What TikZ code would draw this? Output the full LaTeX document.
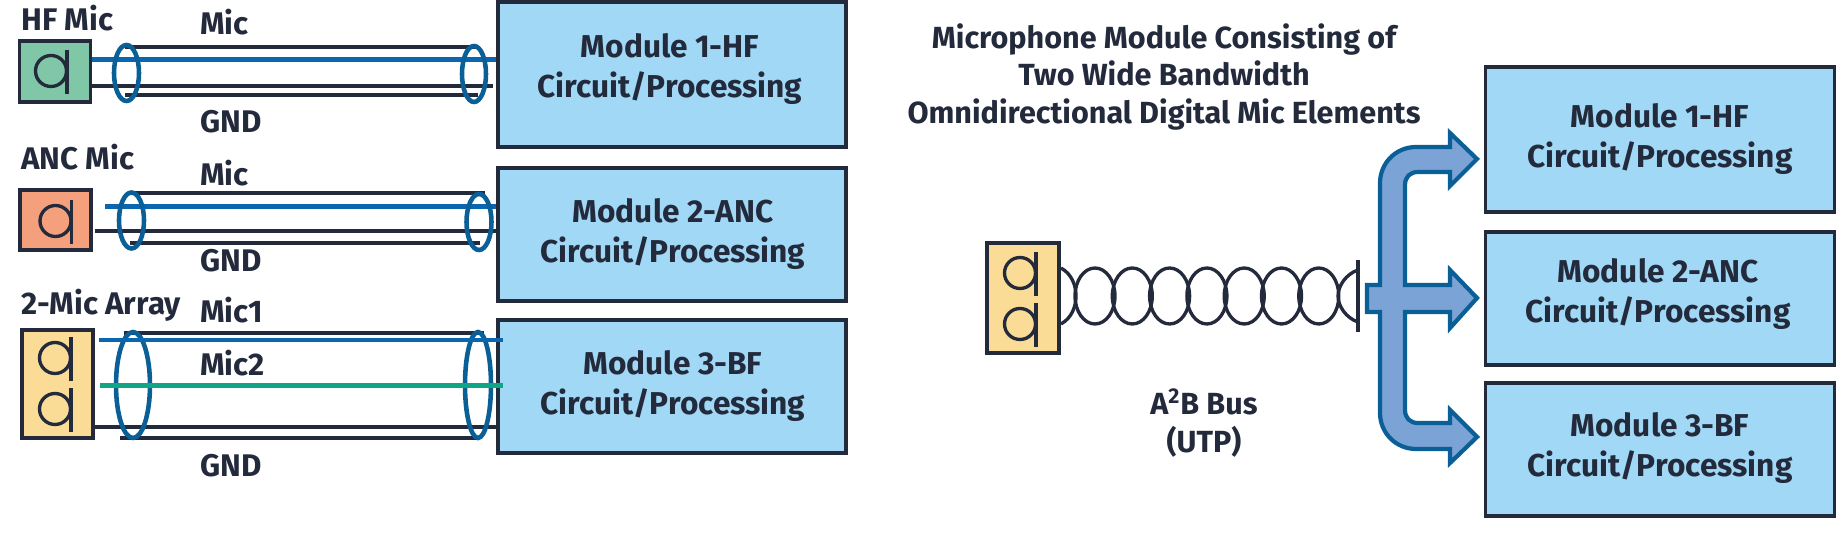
\documentclass[tikz,border=0pt]{standalone}
\usepackage{fontspec}
\setmainfont{Fira Sans}
\usepackage{tikz}
\usetikzlibrary{positioning,calc,shapes.geometric}
\definecolor{ink}{HTML}{232A3C}
\definecolor{modfill}{HTML}{A0D8F5}
\definecolor{cgreen}{HTML}{7FC7A6}
\definecolor{corange}{HTML}{F5A07D}
\definecolor{cyellow}{HTML}{FBDC96}
\definecolor{wblue}{HTML}{0A66AE}
\definecolor{wgreen}{HTML}{0FA585}
\definecolor{shield}{HTML}{0A5F96}
\definecolor{busfill}{HTML}{7BA3D6}
\tikzset{
  modbox/.style={draw=ink,fill=modfill,line width=2.2pt,inner sep=0pt},
  micbox/.style={draw=ink,line width=2.2pt,inner sep=0pt},
  modtext/.style={font=\fontsize{18}{22.6}\selectfont\bfseries,text=ink,align=center},
  titletext/.style={font=\fontsize{17.4}{21.6}\selectfont\bfseries,text=ink,align=center},
  lbl/.style={font=\fontsize{17.8}{22}\selectfont\bfseries,text=ink,anchor=base west,inner sep=0pt},
  shieldring/.style={ellipse,draw=shield,line width=2.6pt,inner sep=0pt},
  coilloop/.style={ellipse,draw=ink,line width=1.9pt,inner sep=0pt,minimum width=40*0.02cm,minimum height=56*0.02cm},
  cable/.style={draw=ink,line width=2pt},
  gndwire/.style={draw=ink,line width=2.2pt},
  sigwire/.style={line width=2.3pt},
}
% q shaped element, #1 = stem x, #2 = stem top
\newcommand{\micq}[2]{
  \draw[ink,line width=1.9pt] (#1-16,#2+21) circle [radius=15.5*0.02cm];
  \draw[ink,line width=1.9pt] (#1,#2) -- (#1,#2+44);
}
\begin{document}
\begin{tikzpicture}[x=0.02cm,y=-0.02cm]
  \useasboundingbox (0,0) rectangle (1836,536);
  % modules
  \foreach \n/\cx/\cy/\w/\h/\tx/\ty/\a/\b in {
    la/672/74.5/348/145/670/69/1/HF,
    lb/672/234.5/348/133/673/234/2/ANC,
    lc/672/386.5/348/133/673/386/3/BF,
    ra/1660/139.5/349/145/1660/139/1/HF,
    rb/1660/298.5/349/133/1658/294/2/ANC,
    rc/1660/449.5/349/133/1660/448/3/BF}{
    \node[modbox,minimum width=\w*0.02cm,minimum height=\h*0.02cm] (\n) at (\cx,\cy) {};
    \node[modtext] (\n txt) at (\tx,\ty) {Module \a-\b\\Circuit/Processing};
  }
  % mic boxes
  \node[micbox,fill=cgreen,minimum width=71*0.02cm,minimum height=61*0.02cm] (hf) at (55,71.5) {};
  \node[micbox,fill=corange,minimum width=71*0.02cm,minimum height=60*0.02cm] (anc) at (55.5,220) {};
  \node[micbox,fill=cyellow,minimum width=71*0.02cm,minimum height=108*0.02cm] (arr) at (57.5,384) {};
  \node[micbox,fill=cyellow,minimum width=72*0.02cm,minimum height=110*0.02cm] (bus) at (1023,298) {};
  \micq{67}{50}
  \micq{71.5}{200}
  \micq{71}{337}
  \micq{71}{388}
  \micq{1036}{252}
  \micq{1036}{303}
  % shields
  \foreach \y/\xa/\xb/\c in {47/125/478/1,95/125/478/2,193/130/485/3,243/130/480/4,333/124/484/5,438/120/480/6}{
    \coordinate (sa\c) at (\xa,\y);
    \coordinate (sb\c) at (\xb,\y);
    \draw[cable] (sa\c) -- (sb\c);
  }
  % wires
  \draw[gndwire] (hf.east |- 0,86) -- (493,86);
  \draw[wblue,sigwire] (hf.east |- 0,59.5) -- (la.west |- 0,59.5);
  \draw[gndwire] (95,231) -- (lb.west |- 0,231);
  \draw[wblue,sigwire] (105,206.5) -- (lb.west |- 0,206.5);
  \draw[gndwire] (95,427) -- (lc.west |- 0,427);
  \foreach \n/\x/\y/\w/\h in {ra/126.5/73/25/56,rb/474/74/24/56,rc/131.5/220.5/25/56,rd/479/222/25/56,re/133/385/34/106,rf/478/385/26/106}{
    \node[shieldring,minimum width=\w*0.02cm,minimum height=\h*0.02cm] (ring\n) at (\x,\y) {};
  }
  \coordinate (mic1end) at (503,340);
  \coordinate (mic2end) at (503,385.5);
  \draw[wblue,sigwire] (99,340) -- (mic1end);
  \draw[wgreen,sigwire] (100,385.5) -- (mic2end);
  % labels
  \node[lbl] (t1) at (21,31) {HF Mic};
  \node[lbl] (t2) at (200,35) {Mic};
  \node[lbl] (t3) at (200,133) {GND};
  \node[lbl] (t4) at (21,170) {ANC Mic};
  \node[lbl] (t5) at (200,186) {Mic};
  \node[lbl] (t6) at (200,272) {GND};
  \node[lbl] (t7) at (21,315) {2-Mic Array};
  \node[lbl] (t8) at (200,323) {Mic1};
  \node[lbl] (t9) at (200,376) {Mic2};
  \node[lbl] (t10) at (200,477) {GND};
  \node[titletext] (title) at (1164,77) {Microphone Module Consisting of\\Two Wide Bandwidth\\Omnidirectional Digital Mic Elements};
  \node[titletext] (buslbl) at (1204,423) {A\textsuperscript{2}B Bus\\(UTP)};
  % coil
  \foreach \k in {0,...,6}{
    \node[coilloop] (c\k) at ({1095+37.3*\k},296) {};
  }
  \draw[ink,line width=1.9pt] (bus.east |- 0,268) .. controls (1072,274) and (1076,286) .. (1076,296) .. controls (1076,306) and (1072,318) .. (bus.east |- 0,324);
  \coordinate (bartop) at (1358,260);
  \coordinate (barbot) at (1358,332);
  \draw[ink,line width=1.9pt] (1358,270) .. controls (1346,274) and (1338,286) .. (1338,296) .. controls (1338,306) and (1346,318) .. (1358,322);
  \draw[ink,line width=2pt] (bartop) -- (barbot);
  % bus arrow
  \draw[shield,fill=busfill,line width=2.4pt,line join=miter]
    (1477,159) -- (1450,186) -- (1450,172) -- (1418,172) .. controls (1410,172) and (1405,177) .. (1405,185)
    -- (1405,285) -- (1450,285) -- (1450,270) -- (1477,298) -- (1450,328) -- (1450,312) -- (1405,312)
    -- (1405,410) .. controls (1405,418) and (1410,423) .. (1418,423)
    -- (1450,423) -- (1450,410) -- (1477,437) -- (1450,463) -- (1450,449)
    -- (1416,449) .. controls (1396,449) and (1380,433) .. (1380,413)
    -- (1380,312) -- (1367,312) -- (1367,285) -- (1380,285)
    -- (1380,183) .. controls (1380,163) and (1396,147) .. (1416,147)
    -- (1450,147) -- (1450,133) -- cycle;
\end{tikzpicture}
\end{document}
